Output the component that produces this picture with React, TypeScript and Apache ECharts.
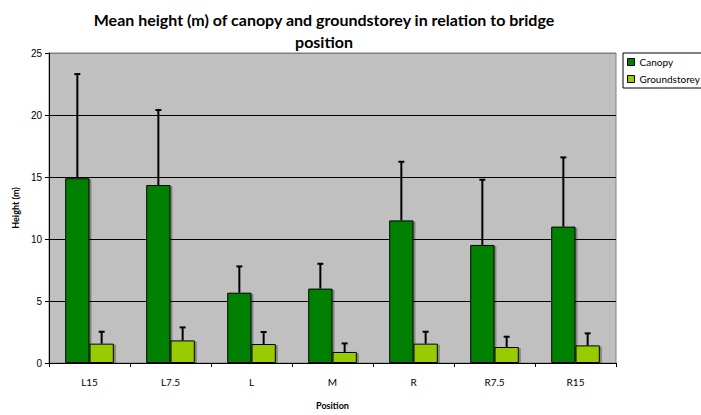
import React, { useEffect, useRef } from "react";
import * as echarts from "echarts";

const categories = ["L15", "L7.5", "L", "M", "R", "R7.5", "R15"];
const canopyMean = [14.9, 14.35, 5.67, 6.0, 11.5, 9.52, 11.0];
const canopyErr = [8.4, 6.05, 2.12, 2.0, 4.73, 5.26, 5.58];
const groundMean = [1.56, 1.82, 1.53, 0.89, 1.56, 1.29, 1.42];
const groundErr = [0.96, 1.05, 0.97, 0.69, 0.96, 0.83, 0.97];
const yTicks = [0, 5, 10, 15, 20, 25];

const CANOPY = "#008000";
const GROUND = "#99CC00";

function errorSeries(means: number[], errs: number[], offsetFrac: number) {
  return {
    type: "custom",
    silent: true,
    z: 5,
    data: means.map((m, i) => [i, m, m + errs[i]]),
    renderItem: (params: any, api: any) => {
      const idx = api.value(0);
      const low = api.coord([idx, api.value(1)]);
      const high = api.coord([idx, api.value(2)]);
      const band = api.size([1, 0])[0];
      const x = low[0] + band * offsetFrac;
      const cap = 3;
      return {
        type: "group",
        children: [
          {
            type: "line",
            shape: { x1: x, y1: low[1], x2: x, y2: high[1] },
            style: { stroke: "#000", lineWidth: 2 },
          },
          {
            type: "line",
            shape: { x1: x - cap, y1: high[1], x2: x + cap, y2: high[1] },
            style: { stroke: "#000", lineWidth: 2 },
          },
        ],
      };
    },
  };
}

export default function App() {
  const ref = useRef<HTMLDivElement>(null);
  useEffect(() => {
    document.body.style.margin = "0";
    if (!ref.current) return;
    const chart = echarts.init(ref.current, null, { renderer: "svg" });
    chart.setOption({
      animation: false,
      backgroundColor: "#fff",
      title: {
        text: "Mean height (m) of canopy and groundstorey in relation to bridge\nposition",
        left: 319,
        top: 3,
        textAlign: "center",
        textStyle: {
          fontFamily: "Lato",
          fontWeight: "bold",
          fontSize: 16,
          lineHeight: 22,
          color: "#000",
        },
      },
      legend: {
        orient: "vertical",
        left: 623,
        top: 53,
        padding: [4, 4, 4, 4],
        itemGap: 7,
        itemWidth: 7,
        itemHeight: 7,
        itemTextGap: 3,
        backgroundColor: "#fff",
        borderColor: "#000",
        borderWidth: 1,
        borderRadius: 0,
        icon: "rect",
        itemStyle: { borderColor: "#000", borderWidth: 1 },
        textStyle: { fontFamily: "Lato", fontSize: 10, color: "#000" },
        data: ["Canopy", "Groundstorey"],
      },
      grid: {
        left: 49,
        right: 85,
        top: 53,
        bottom: 52,
        show: true,
        backgroundColor: "#C0C0C0",
        borderColor: "#808080",
        borderWidth: 1,
      },
      xAxis: {
        type: "category",
        data: categories,
        name: "Position",
        nameLocation: "middle",
        nameGap: 38,
        nameTextStyle: { fontFamily: "Lato", fontWeight: "bold", fontSize: 9, color: "#000" },
        axisLine: { lineStyle: { color: "#000", width: 1 } },
        axisTick: { show: true, length: 4, lineStyle: { color: "#000" } },
        axisLabel: { fontFamily: "Lato", fontSize: 10, color: "#000", margin: 14 },
      },
      yAxis: {
        type: "value",
        min: yTicks[0],
        max: yTicks[yTicks.length - 1],
        interval: 5,
        name: "Height (m)",
        nameLocation: "middle",
        nameGap: 26,
        nameTextStyle: { fontFamily: "Lato", fontWeight: "bold", fontSize: 9, color: "#000" },
        axisLine: { show: true, lineStyle: { color: "#000", width: 1 } },
        axisTick: { show: true, length: 4, lineStyle: { color: "#000" } },
        axisLabel: { fontFamily: "Liberation Sans", fontSize: 10, color: "#000", margin: 7 },
        splitLine: {
          show: true,
          lineStyle: { color: ["#000", "#000", "#000", "#000", "#000", "#808080"], width: 1 },
        },
      },
      series: [
        {
          name: "Canopy",
          type: "bar",
          data: canopyMean,
          barGap: "0%",
          barCategoryGap: "40%",
          itemStyle: {
            color: CANOPY,
            borderColor: "#000",
            borderWidth: 1,
            shadowColor: "rgba(0,0,0,0.3)",
            shadowOffsetX: 2,
            shadowOffsetY: 1,
            shadowBlur: 0,
          },
        },
        {
          name: "Groundstorey",
          type: "bar",
          data: groundMean,
          barGap: "0%",
          barCategoryGap: "40%",
          itemStyle: {
            color: GROUND,
            borderColor: "#000",
            borderWidth: 1,
            shadowColor: "rgba(0,0,0,0.3)",
            shadowOffsetX: 2,
            shadowOffsetY: 1,
            shadowBlur: 0,
          },
        },
        errorSeries(canopyMean, canopyErr, -0.15),
        errorSeries(groundMean, groundErr, 0.15),
      ],
    });
    return () => chart.dispose();
  }, []);
  return <div ref={ref} style={{ width: 701, height: 415 }} />;
}
